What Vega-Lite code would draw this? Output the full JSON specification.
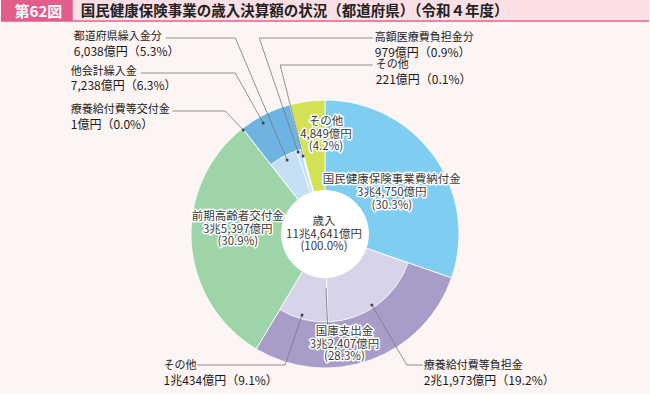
{
  "$schema": "https://vega.github.io/schema/vega-lite/v6.json",
  "width": 650,
  "height": 394,
  "autosize": {"type": "fit", "contains": "padding"},
  "padding": 0,
  "background": "#fdf5f4",
  "config": {"view": {"stroke": null}, "font": "Noto Sans CJK JP"},
  "datasets": {
    "top": [
      {"key": "国民健康保険事業費納付金", "amount": 34750, "order": 1},
      {"key": "国庫支出金", "amount": 32407, "order": 2},
      {"key": "前期高齢者交付金", "amount": 35397, "order": 3},
      {"key": "療養給付費等交付金", "amount": 1, "order": 4},
      {"key": "他会計繰入金", "amount": 7238, "order": 5},
      {"key": "その他", "amount": 4849, "order": 6}
    ],
    "sub": [
      {"key": "国民健康保険事業費納付金", "parent": null, "amount": 34750, "order": 1},
      {"key": "療養給付費等負担金", "parent": "国庫支出金", "amount": 21973, "order": 2},
      {"key": "国庫その他", "parent": "国庫支出金", "amount": 10434, "order": 3},
      {"key": "前期高齢者交付金", "parent": null, "amount": 35397, "order": 4},
      {"key": "療養給付費等交付金", "parent": null, "amount": 1, "order": 5},
      {"key": "都道府県繰入金分", "parent": "他会計繰入金", "amount": 6038, "order": 6},
      {"key": "高額医療費負担金分", "parent": "他会計繰入金", "amount": 979, "order": 7},
      {"key": "他会計その他", "parent": "他会計繰入金", "amount": 221, "order": 8},
      {"key": "その他", "parent": null, "amount": 4849, "order": 9}
    ],
    "leaders": [
      {"id": 1, "seq": 0, "ux": -1.194, "uy": 1.4627},
      {"id": 1, "seq": 1, "ux": -0.6716, "uy": 1.4627},
      {"id": 1, "seq": 2, "ux": -0.2836, "uy": 0.5522},
      {"id": 2, "seq": 0, "ux": -1.3806, "uy": 1.2015},
      {"id": 2, "seq": 1, "ux": -0.6716, "uy": 1.2015},
      {"id": 2, "seq": 2, "ux": -0.4627, "uy": 0.8284},
      {"id": 3, "seq": 0, "ux": -1.1418, "uy": 0.9179},
      {"id": 3, "seq": 1, "ux": -0.7463, "uy": 0.9179},
      {"id": 3, "seq": 2, "ux": -0.6119, "uy": 0.7761},
      {"id": 4, "seq": 0, "ux": 0.3582, "uy": 1.4627},
      {"id": 4, "seq": 1, "ux": -0.4925, "uy": 1.4627},
      {"id": 4, "seq": 2, "ux": -0.2015, "uy": 0.6119},
      {"id": 5, "seq": 0, "ux": 0.3582, "uy": 1.2612},
      {"id": 5, "seq": 1, "ux": -0.3358, "uy": 1.2612},
      {"id": 5, "seq": 2, "ux": -0.1642, "uy": 0.5821},
      {"id": 6, "seq": 0, "ux": -0.9552, "uy": -0.9776},
      {"id": 6, "seq": 1, "ux": -0.2985, "uy": -0.9776},
      {"id": 6, "seq": 2, "ux": -0.1716, "uy": -0.6045},
      {"id": 7, "seq": 0, "ux": 0.7313, "uy": -0.9776},
      {"id": 7, "seq": 1, "ux": 0.6119, "uy": -0.9776},
      {"id": 7, "seq": 2, "ux": 0.3507, "uy": -0.5299},
      {"id": 8, "seq": 0, "ux": 0.0075, "uy": -0.403},
      {"id": 8, "seq": 1, "ux": 0.0224, "uy": -0.7463}
    ],
    "extLabels": [
      {"name": "都道府県繰入金分", "value": "6,038億円（5.3%）", "ux": -1.8806, "uy": 1.4701},
      {"name": "他会計繰入金", "value": "7,238億円（6.3%）", "ux": -1.903, "uy": 1.209},
      {"name": "療養給付費等交付金", "value": "1億円（0.0%）", "ux": -1.903, "uy": 0.9254},
      {"name": "高額医療費負担金分", "value": "979億円（0.9%）", "ux": 0.3731, "uy": 1.4627},
      {"name": "その他", "value": "221億円（0.1%）", "ux": 0.3806, "uy": 1.2612},
      {"name": "その他", "value": "1兆434億円（9.1%）", "ux": -1.209, "uy": -0.9851},
      {"name": "療養給付費等負担金", "value": "2兆1,973億円（19.2%）", "ux": 0.7388, "uy": -0.9851}
    ],
    "pieLabels": [
      {"text": "その他\n4,849億円\n(4.2%)", "ux": 0.0075, "uy": 0.8381},
      {"text": "国民健康保険事業費納付金\n3兆4,750億円\n(30.3%)", "ux": 0.5, "uy": 0.403},
      {"text": "前期高齢者交付金\n3兆5,397億円\n(30.9%)", "ux": -0.653, "uy": 0.1291},
      {"text": "国庫支出金\n3兆2,407億円\n(28.3%)", "ux": 0.1455, "uy": -0.7291},
      {"text": "歳入\n11兆4,641億円\n(100.0%)", "ux": -0.0075, "uy": 0.0918}
    ]
  },
  "layer": [
    {
      "data": {"values": [{}]},
      "mark": {"type": "rect", "color": "#fbdfe5"},
      "encoding": {
        "x": {"datum": -1.8881, "type": "quantitative", "scale": {"domain": [-2.4254, 2.4254], "nice": false, "zero": false}, "axis": null},
        "x2": {"datum": 2.4254},
        "y": {"datum": 1.7463, "type": "quantitative", "scale": {"domain": [-1.194, 1.7463], "nice": false, "zero": false}, "axis": null},
        "y2": {"datum": 1.597}
      }
    },
    {
      "data": {"values": [{}]},
      "mark": {"type": "rect", "color": "#e35d8c"},
      "encoding": {
        "x": {"datum": -2.4254, "type": "quantitative", "axis": null},
        "x2": {"datum": -1.8881},
        "y": {"datum": 1.7463, "type": "quantitative", "axis": null},
        "y2": {"datum": 1.5896}
      }
    },
    {
      "data": {"values": [{}]},
      "mark": {"type": "rule", "color": "#e35d8c", "strokeWidth": 1.5},
      "encoding": {
        "x": {"datum": -2.4254, "type": "quantitative", "axis": null},
        "x2": {"datum": 2.4254},
        "y": {"datum": 1.5896, "type": "quantitative", "axis": null}
      }
    },
    {
      "data": {"values": [{}]},
      "mark": {"type": "text", "color": "white", "fontSize": 15, "fontWeight": "bold", "align": "center", "baseline": "middle"},
      "encoding": {
        "x": {"datum": -2.1455, "type": "quantitative", "axis": null},
        "y": {"datum": 1.66, "type": "quantitative", "axis": null},
        "text": {"value": "第62図"}
      }
    },
    {
      "data": {"values": [{}]},
      "mark": {"type": "text", "color": "#222222", "fontSize": 14.5, "fontWeight": "bold", "align": "left", "baseline": "middle"},
      "encoding": {
        "x": {"datum": -1.8284, "type": "quantitative", "axis": null},
        "y": {"datum": 1.66, "type": "quantitative", "axis": null},
        "text": {"value": "国民健康保険事業の歳入決算額の状況（都道府県）（令和４年度）"}
      }
    },
    {
      "data": {"name": "top"},
      "mark": {"type": "arc", "outerRadius": 134, "innerRadius": 43.5, "stroke": "white", "strokeWidth": 0.8},
      "encoding": {
        "x": {"datum": 0, "type": "quantitative", "axis": null},
        "y": {"datum": 0, "type": "quantitative", "axis": null},
        "theta": {"field": "amount", "type": "quantitative", "stack": true},
        "order": {"field": "order", "type": "quantitative"},
        "color": {
          "field": "key", "type": "nominal", "legend": null,
          "scale": {
            "domain": ["国民健康保険事業費納付金", "国庫支出金", "前期高齢者交付金", "療養給付費等交付金", "他会計繰入金", "その他", "療養給付費等負担金", "国庫その他", "都道府県繰入金分", "高額医療費負担金分", "他会計その他"],
            "range": ["#7fcdf1", "#a89dc9", "#9dd5a8", "#9dd5a8", "#6db4e3", "#d5e155", "#d7d3e8", "#d7d3e8", "#c5e0f5", "#c5e0f5", "#c5e0f5"]
          }
        }
      }
    },
    {
      "data": {"name": "sub"},
      "mark": {"type": "arc", "outerRadius": 88, "innerRadius": 43.5, "stroke": "white", "strokeWidth": 0.8},
      "encoding": {
        "x": {"datum": 0, "type": "quantitative", "axis": null},
        "y": {"datum": 0, "type": "quantitative", "axis": null},
        "theta": {"field": "amount", "type": "quantitative", "stack": true},
        "order": {"field": "order", "type": "quantitative"},
        "color": {"field": "key", "type": "nominal", "legend": null},
        "opacity": {"condition": {"test": "datum.parent != null", "value": 1}, "value": 0}
      }
    },
    {
      "data": {"values": [{}]},
      "mark": {"type": "arc", "outerRadius": 43.5, "innerRadius": 0, "theta": 0, "theta2": 6.2832, "fill": "white"},
      "encoding": {
        "x": {"datum": 0, "type": "quantitative", "axis": null},
        "y": {"datum": 0, "type": "quantitative", "axis": null}
      }
    },
    {
      "data": {"name": "leaders"},
      "mark": {"type": "line", "color": "#777777", "strokeWidth": 0.8},
      "encoding": {
        "x": {"field": "ux", "type": "quantitative", "axis": null},
        "y": {"field": "uy", "type": "quantitative", "axis": null},
        "detail": {"field": "id", "type": "nominal"},
        "order": {"field": "seq", "type": "quantitative"}
      }
    },
    {
      "data": {"name": "leaders"},
      "transform": [{"filter": "datum.seq == 2"}],
      "mark": {"type": "point", "filled": true, "color": "#444444", "size": 9, "opacity": 1},
      "encoding": {
        "x": {"field": "ux", "type": "quantitative", "axis": null},
        "y": {"field": "uy", "type": "quantitative", "axis": null}
      }
    },
    {
      "data": {"name": "extLabels"},
      "mark": {"type": "text", "color": "#222222", "fontSize": 11, "align": "left", "baseline": "middle"},
      "encoding": {
        "x": {"field": "ux", "type": "quantitative", "axis": null},
        "y": {"field": "uy", "type": "quantitative", "axis": null},
        "text": {"field": "name", "type": "nominal"}
      }
    },
    {
      "data": {"name": "extLabels"},
      "mark": {"type": "text", "color": "#1a1a1a", "fontSize": 12, "align": "left", "baseline": "middle", "dy": 14.5},
      "encoding": {
        "x": {"field": "ux", "type": "quantitative", "axis": null},
        "y": {"field": "uy", "type": "quantitative", "axis": null},
        "text": {"field": "value", "type": "nominal"}
      }
    },
    {
      "data": {"name": "pieLabels"},
      "mark": {"type": "text", "color": "white", "stroke": "white", "strokeWidth": 3, "strokeJoin": "round", "fontSize": 11.5, "align": "center", "baseline": "middle", "lineBreak": "\n", "lineHeight": 12.8},
      "encoding": {
        "x": {"field": "ux", "type": "quantitative", "axis": null},
        "y": {"field": "uy", "type": "quantitative", "axis": null},
        "text": {"field": "text", "type": "nominal"}
      }
    },
    {
      "data": {"name": "pieLabels"},
      "mark": {"type": "text", "color": "#3a3a3a", "fontSize": 11.5, "align": "center", "baseline": "middle", "lineBreak": "\n", "lineHeight": 12.8},
      "encoding": {
        "x": {"field": "ux", "type": "quantitative", "axis": null},
        "y": {"field": "uy", "type": "quantitative", "axis": null},
        "text": {"field": "text", "type": "nominal"}
      }
    }
  ]
}
